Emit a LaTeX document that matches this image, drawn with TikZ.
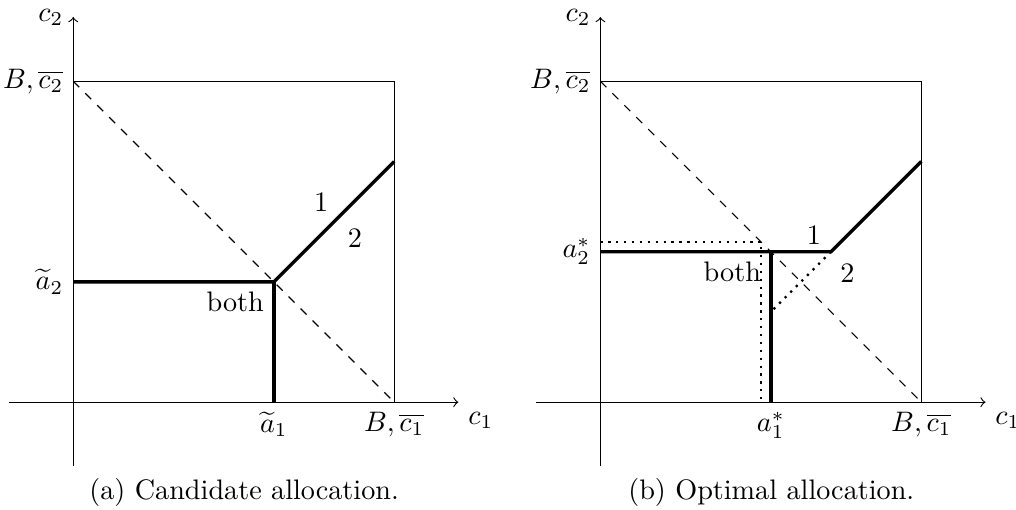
\documentclass[tikz,border=0pt]{standalone}
\usepackage{amsmath}
\usepackage{amssymb}
\usepackage{tikz}
\usetikzlibrary{arrows,positioning,calc}

\begin{document}
\begin{tikzpicture}[
  axis/.style={->},
  budget/.style={dashed},
  frontier/.style={line width=1.2pt},
  guide/.style={dotted, line width=0.8pt}
]
  \useasboundingbox (-0.913,-1.342) rectangle (11.75,5.013);

  % (a) candidate allocation
  \begin{scope}
    \coordinate (aO) at (0,0);
    \coordinate (aXl) at (-0.8,0);
    \coordinate (aXr) at (4.8,0);
    \coordinate (aYb) at (0,-0.8);
    \coordinate (aYt) at (0,4.8);
    \coordinate (aB1) at (4,0);
    \coordinate (aB2) at (0,4);
    \coordinate (aBB) at (4,4);
    \coordinate (aK) at (2.5,1.5);
    \coordinate (aA1) at (2.5,0);
    \coordinate (aA2) at (0,1.5);
    \coordinate (aE) at (4,3);

    \draw[axis] (aXl) -- (aXr);
    \draw[axis] (aYb) -- (aYt);
    \draw (aB2) -- (aBB) -- (aB1);
    \draw[budget] (aB2) -- (aB1);
    \draw[frontier] (aA2) -- (aK) -- (aE);
    \draw[frontier] (aK) -- (aA1);

    \node[left] (ac2) at (aYt) {$c_2$};
    \node[below right] (ac1) at (aXr) {$c_1$};
    \node[left] (aB2l) at (aB2) {$B,\overline{c_2}$};
    \node[below] (aB1l) at (aB1) {$B,\overline{c_1}$};
    \node[left] (aA2l) at (aA2) {$\widetilde{a}_2$};
    \node[below] (aA1l) at (aA1) {$\widetilde{a}_1$};
    \node[below left] (aboth) at (aK) {both};
    \node (aone) at (3.09,2.5) {1};
    \node (atwo) at (3.51,2.04) {2};
    \node (acap) at (2.13,-1.13) {(a) Candidate allocation.};
  \end{scope}

  % (b) optimal allocation
  \begin{scope}[xshift=6.57cm]
    \coordinate (bO) at (0,0);
    \coordinate (bXl) at (-0.8,0);
    \coordinate (bXr) at (4.8,0);
    \coordinate (bYb) at (0,-0.8);
    \coordinate (bYt) at (0,4.8);
    \coordinate (bB1) at (4,0);
    \coordinate (bB2) at (0,4);
    \coordinate (bBB) at (4,4);
    \coordinate (bA1) at (2.125,0);
    \coordinate (bA2) at (0,1.875);
    \coordinate (bJ) at (2.125,1.875);
    \coordinate (bK) at (2.875,1.875);
    \coordinate (bE) at (4,3);
    \coordinate (bD) at (2.125,1.125);
    \coordinate (bC) at (2,2);
    \coordinate (bCy) at (0,2);
    \coordinate (bCx) at (2,0);

    \draw[axis] (bXl) -- (bXr);
    \draw[axis] (bYb) -- (bYt);
    \draw (bB2) -- (bBB) -- (bB1);
    \draw[budget] (bB2) -- (bB1);
    \draw[guide] (bCy) -- (bC) -- (bCx);
    \draw[guide] (bK) -- (bD);
    \draw[frontier] (bA2) -- (bK) -- (bE);
    \draw[frontier] (bJ) -- (bA1);

    \node[left] (bc2) at (bYt) {$c_2$};
    \node[below right] (bc1) at (bXr) {$c_1$};
    \node[left] (bB2l) at (bB2) {$B,\overline{c_2}$};
    \node[below] (bB1l) at (bB1) {$B,\overline{c_1}$};
    \node[left] (bA2l) at (bA2) {$a_2^*$};
    \node[below] (bA1l) at (bA1) {$a_1^*$};
    \node[below left] (bboth) at (bJ) {both};
    \node (bone) at (2.66,2.08) {1};
    \node (btwo) at (3.08,1.61) {2};
    \node (bcap) at (2.13,-1.13) {(b) Optimal allocation.};
  \end{scope}
\end{tikzpicture}
\end{document}
